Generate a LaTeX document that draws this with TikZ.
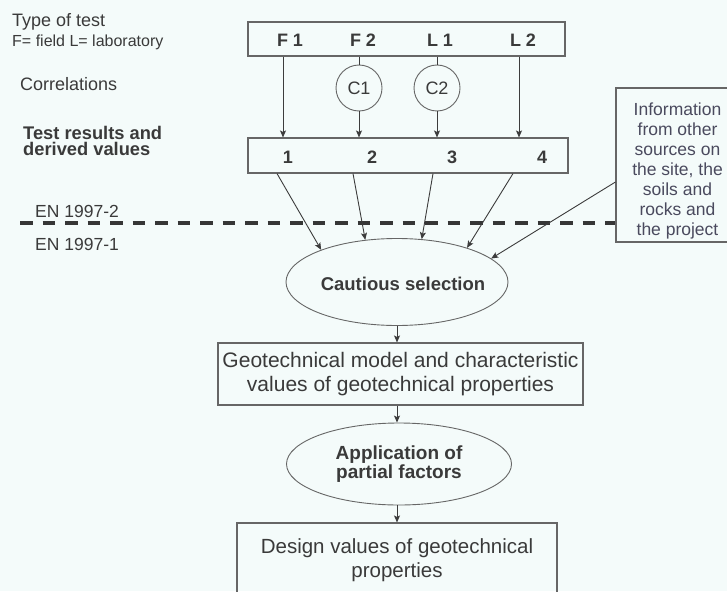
\documentclass[tikz,border=0pt]{standalone}
\usepackage{fontspec}
\setmainfont{Liberation Sans}
\usetikzlibrary{shapes.geometric,arrows.meta}
\definecolor{bgcol}{HTML}{F4FBFA}
\definecolor{tcol}{HTML}{3A3A3A}
\definecolor{icol}{HTML}{4A4A5E}
\definecolor{lcol}{HTML}{3C3C3C}
\definecolor{bcol}{HTML}{666666}
\newcommand{\myfs}[2]{\fontsize{#1}{#2}\selectfont}
\tikzset{
  txt/.style={text=tcol, inner sep=0pt},
  lblw/.style={txt, anchor=base west, align=left},
  bld/.style={txt, font=\bfseries\myfs{18}{20}},
  boxs/.style={draw=bcol, line width=1.1pt, inner sep=0pt, text=tcol},
  ell/.style={ellipse, draw=bcol, line width=0.9pt, inner sep=0pt, text=tcol},
  circ/.style={circle, draw=bcol, line width=0.9pt, inner sep=0pt, minimum size=46pt, text=tcol, font=\myfs{18}{20}},
  ln/.style={draw=lcol, line width=0.9pt},
  arr/.style={ln, -{Stealth[length=7pt,width=6pt,inset=1.5pt]}},
  dash line/.style={draw=lcol!90!black, line width=3.8pt, dash pattern=on 12.5pt off 10pt}
}
\begin{document}
\begin{tikzpicture}[x=1pt,y=-1pt]
\useasboundingbox (0,0) rectangle (727,591);
\clip (0,0) rectangle (727,591);
\fill[bgcol] (0,0) rectangle (727,591);

% left labels
\node[lblw, font=\myfs{18}{20}] (tot) at (12,26.7) {Type of test};
\node[lblw, font=\myfs{16}{17}] (fl) at (12,46.7) {F= field L= laboratory};
\node[lblw, font=\myfs{18}{20}] (corr) at (20,91) {Correlations};
\node[lblw, font=\bfseries\myfs{18.3}{16.5}] (trd) at (23,155.7) {Test results and\\derived values};
\node[lblw, font=\myfs{17.5}{19}] (en2) at (35,217) {EN 1997-2};
\node[lblw, font=\myfs{17.5}{19}] (en1) at (35,250) {EN 1997-1};

% information box
\node[boxs, minimum width=123pt, minimum height=154pt] (info) at (677.5,165) {};
\node[txt, text=icol, align=center, font=\myfs{17.5}{20}] (infot) at (677.5,170.5)
  {Information\\from other\\sources on\\the site, the\\soils and\\rocks and\\the project};

% dashed separator
\coordinate (dl) at (20,223);
\draw[dash line] (dl) -- (dl -| info.west);

% top box
\node[boxs, minimum width=317pt, minimum height=34pt] (tb) at (406.5,39) {};
\node[bld] (f1) at (290,40) {F 1};
\node[bld] (f2) at (363,40) {F 2};
\node[bld] (l1) at (440,40) {L 1};
\node[bld] (l2) at (523,40) {L 2};

% correlations circles
\node[circ] (c1) at (359,88) {C1};
\node[circ] (c2) at (437,88) {C2};

% results box
\node[boxs, minimum width=320pt, minimum height=35pt] (rb) at (408,155.5) {};
\node[bld] (n1) at (288,157) {1};
\node[bld] (n2) at (372,157) {2};
\node[bld] (n3) at (452,157) {3};
\node[bld] (n4) at (542,157) {4};

\coordinate (xa) at (283,0);
\coordinate (xd) at (519,0);
\draw[arr] (tb.south -| xa) -- (rb.north -| xa);
\draw[ln] (tb.south -| c1) -- (c1.north);
\draw[arr] (c1.south) -- (rb.north -| c1);
\draw[ln] (tb.south -| c2) -- (c2.north);
\draw[arr] (c2.south) -- (rb.north -| c2);
\draw[arr] (tb.south -| xd) -- (rb.north -| xd);

% cautious selection
\node[ell, minimum width=222pt, minimum height=87pt, font=\bfseries\myfs{18.5}{20}] (cs) at (397,282) {};
\node[txt, font=\bfseries\myfs{18.5}{20}] (cst) at (403,284) {Cautious selection};

\coordinate (s1) at (277,0);
\coordinate (s2) at (353,0);
\coordinate (s3) at (433,0);
\coordinate (s4) at (513,0);
\draw[arr] (rb.south -| s1) -- (cs.157);
\draw[arr] (rb.south -| s2) -- (cs.127);
\draw[arr] (rb.south -| s3) -- (cs.60);
\draw[arr] (rb.south -| s4) -- (cs.26);
\draw[arr] ([yshift=-17pt]info.west) -- (cs.14);

% geotechnical model
\node[boxs, minimum width=365pt, minimum height=62pt, align=center, font=\myfs{21}{24}] (geo) at (400.5,374)
  {Geotechnical model and characteristic\\values of geotechnical properties};
\draw[arr] (cs.south) -- (cs.south |- geo.north);

% partial factors
\node[ell, minimum width=225pt, minimum height=82pt, align=center, font=\bfseries\myfs{19}{19}] (app) at (399,464)
  {Application of\\partial factors};
\draw[arr] (geo.south -| cs.south) -- (app.north -| cs.south);

% design values
\node[boxs, minimum width=320pt, minimum height=74pt, align=center, font=\myfs{20.5}{23.5}] (des) at (397,560)
  {Design values of geotechnical\\properties};
\draw[arr] (app.south -| cs.south) -- (des.north -| cs.south);
\end{tikzpicture}
\end{document}
